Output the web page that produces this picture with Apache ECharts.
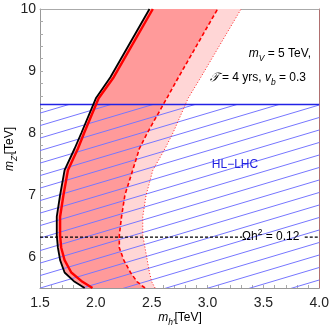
<!DOCTYPE html>
<html>
<head>
<meta charset="utf-8">
<script src="https://cdn.jsdelivr.net/npm/echarts@6/dist/echarts.min.js"></script>
<style>
html,body{margin:0;padding:0;background:#fff;}
#chart{width:332px;height:330px;}
</style>
</head>
<body>
<div id="chart"></div>
<script>
// m_Z' grid (TeV) shared by the four contours
const mZ         = [5.5,  5.6,  5.75, 5.95, 6.15, 6.35, 6.65, 7.0,  7.4,  7.75, 8.0,  8.56, 8.9,  10];
// m_h' (TeV) of each contour at those m_Z'
const blackEdge  = [1.90, 1.81, 1.72, 1.68, 1.66, 1.65, 1.65, 1.68, 1.72, 1.81, 1.87, 2.00, 2.13, 2.48];
const redEdge    = [1.97, 1.88, 1.78, 1.72, 1.69, 1.68, 1.68, 1.71, 1.75, 1.84, 1.895, 2.025, 2.16, 2.51];
const dashedEdge = [2.44, 2.37, 2.31, 2.25, 2.21, 2.21, 2.23, 2.26, 2.33, 2.39, 2.46, 2.635, 2.74, 3.09];
const dottedEdge = [2.53, 2.50, 2.48, 2.46, 2.44, 2.42, 2.42, 2.45, 2.51, 2.62, 2.69, 2.826, 2.94, 3.30];

const hlLhc = 8.46;          // HL-LHC reach
const omegaY = 6.32;         // relic abundance line
const omegaGap = [3.31, 3.87];

const xRange = [1.5, 4.0];
const yRange = [5.5, 10];
const xTickLabels = [1.5, 2.0, 2.5, 3.0, 3.5, 4.0];
const yTickLabels = [6, 7, 8, 9, 10];
const xTicks = [1.6,1.7,1.8,1.9,2.0,2.1,2.2,2.3,2.4,2.5,2.6,2.7,2.8,2.9,3.0,3.1,3.2,3.3,3.4,3.5,3.6,3.7,3.8,3.9];
const yTicks = [5.6,5.8,6.0,6.2,6.4,6.6,6.8,7.0,7.2,7.4,7.6,7.8,8.0,8.2,8.4,8.6,8.8,9.0,9.2,9.4,9.6,9.8];

const FONT = 'Liberation Sans';

function pts(xs){ return xs.map((x, i) => [x, mZ[i]]); }

// hatch tile
const tile = document.createElement('canvas');
tile.width = 84; tile.height = 25;
(function(){
    const c = tile.getContext('2d');
    c.strokeStyle = '#7676ff';
    c.lineWidth = 1;
    [-25, -12.5, 0, 12.5, 25].forEach(off => {
        c.beginPath();
        c.moveTo(0, 25 + off);
        c.lineTo(84, off);
        c.stroke();
    });
})();

function band(leftXs, rightXs, fill){
    return {
        type: 'custom',
        z: 1,
        silent: true,
        data: [[2, 7]],
        renderItem: function(params, api){
            const l = pts(leftXs).map(p => api.coord(p));
            const r = pts(rightXs).map(p => api.coord(p)).reverse();
            return { type: 'polygon', shape: { points: l.concat(r) }, style: { fill: fill } };
        }
    };
}

function curve(xs, color, width, type, z){
    return {
        type: 'line', data: pts(xs), symbol: 'none', z: z, silent: true,
        lineStyle: { color: color, width: width, type: type }
    };
}

const richBase = {
    n:   { fontFamily: FONT, fontSize: 12, color: '#111', lineHeight: 18 },
    i:   { fontFamily: FONT, fontSize: 12, color: '#111', fontStyle: 'italic', lineHeight: 18 },
    sub: { fontFamily: FONT, fontSize: 8.5, color: '#111', fontStyle: 'italic', verticalAlign: 'bottom', lineHeight: 9 },
    sup: { fontFamily: FONT, fontSize: 8.5, color: '#111', verticalAlign: 'top', lineHeight: 9 }
};

let myChart = echarts.init(document.getElementById('chart'));
let option = {
    animation: false,
    grid: { left: 40, right: 12, top: 9, bottom: 42 },
    xAxis: [
        {
            type: 'value', min: xRange[0], max: xRange[1],
            axisLine: { lineStyle: { color: '#999', width: 1 } },
            axisTick: { inside: true, length: 3, customValues: xTicks, lineStyle: { color: '#aaa' } },
            axisLabel: {
                customValues: xTickLabels, margin: 8,
                fontFamily: FONT, fontSize: 14, color: '#222',
                formatter: v => v.toFixed(1)
            },
            splitLine: { show: false }
        },
        {
            type: 'value', position: 'top', min: xRange[0], max: xRange[1],
            axisLine: { onZero: false, lineStyle: { color: '#aaa', width: 1 } },
            axisTick: { show: false }, axisLabel: { show: false }, splitLine: { show: false }
        }
    ],
    yAxis: [
        {
            type: 'value', min: yRange[0], max: yRange[1],
            axisLine: { onZero: false, lineStyle: { color: '#999', width: 1 } },
            axisTick: { inside: true, length: 3, customValues: yTicks, lineStyle: { color: '#aaa' } },
            axisLabel: {
                customValues: yTickLabels, margin: 4,
                fontFamily: FONT, fontSize: 14, color: '#222'
            },
            splitLine: { show: false }
        },
        {
            type: 'value', position: 'right', min: yRange[0], max: yRange[1],
            axisLine: { onZero: false, lineStyle: { color: '#b07070', width: 1 } },
            axisTick: { show: false }, axisLabel: { show: false }, splitLine: { show: false }
        }
    ],
    series: [
        band(dashedEdge, dottedEdge, '#ffd6d6'),
        band(blackEdge, dashedEdge, '#ff9a9a'),
        {
            // HL-LHC excluded region (hatched)
            type: 'custom', z: 2, silent: true,
            data: [[xRange[0], hlLhc]],
            renderItem: function(params, api){
                const a = api.coord([xRange[0], hlLhc]);
                const b = api.coord([xRange[1], yRange[0]]);
                return {
                    type: 'rect',
                    shape: { x: a[0], y: a[1], width: b[0] - a[0], height: b[1] - a[1] },
                    style: { fill: { image: tile, repeat: 'repeat' } }
                };
            }
        },
        {
            type: 'line', symbol: 'none', z: 3, silent: true,
            data: [[xRange[0], hlLhc], [xRange[1], hlLhc]],
            lineStyle: { color: '#2222e6', width: 1.5 }
        },
        {
            type: 'line', symbol: 'none', z: 3, silent: true,
            data: [[xRange[0], omegaY], [omegaGap[0], omegaY]],
            lineStyle: { color: '#000', width: 1.2, type: [3, 2] }
        },
        {
            type: 'line', symbol: 'none', z: 3, silent: true,
            data: [[omegaGap[1], omegaY], [xRange[1], omegaY]],
            lineStyle: { color: '#000', width: 1.2, type: [3, 2] }
        },
        curve(dottedEdge, '#ff2020', 1, [1, 2], 4),
        curve(dashedEdge, '#ff0000', 1.6, [4, 2.5], 4),
        curve(blackEdge, '#000', 1.8, 'solid', 5),
        curve(redEdge, '#ff0000', 2.4, 'solid', 5)
    ],
    graphic: [
        {
            type: 'text', x: 311, y: 54, z: 10,
            style: { text: '{i|m}{sub|V}{n| = 5 TeV,}', rich: richBase, align: 'right', verticalAlign: 'middle' }
        },
        {
            type: 'text', x: 306, y: 78, z: 10,
            style: { text: '{i|𝒯}{n| = 4 yrs, }{i|v}{sub|b}{n| = 0.3}', rich: richBase, align: 'right', verticalAlign: 'middle' }
        },
        {
            type: 'text', x: 235, y: 165, z: 10,
            style: { text: 'HL\u2212LHC', fontFamily: FONT, fontSize: 12, fill: '#2020e0', align: 'center', verticalAlign: 'middle' }
        },
        {
            type: 'text', x: 242, y: 237, z: 10,
            style: { text: '{n|Ωh}{sup|2}{n| = 0.12}', rich: richBase, align: 'left', verticalAlign: 'middle' }
        },
        {
            type: 'text', x: 180, y: 318, z: 10,
            style: { text: '{i|m}{sub|h\u2032}{n|[TeV]}', rich: richBase, align: 'center', verticalAlign: 'middle' }
        },
        {
            type: 'text', x: 10, y: 149, z: 10, rotation: Math.PI / 2,
            style: { text: '{i|m}{sub|Z\u2032}{n|[TeV]}', rich: richBase, align: 'center', verticalAlign: 'middle' }
        }
    ]
};
myChart.setOption(option);
</script>
</body>
</html>
